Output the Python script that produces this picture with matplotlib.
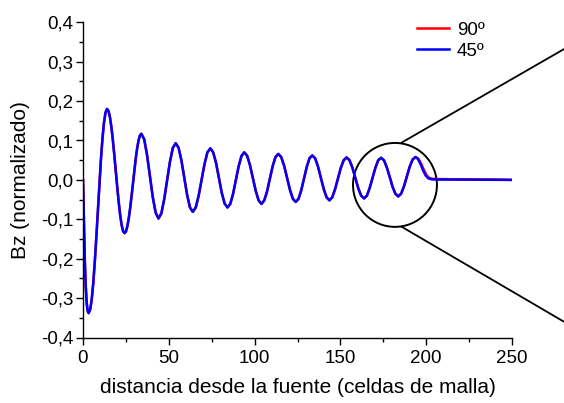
import matplotlib
matplotlib.use("Agg")
import matplotlib.pyplot as plt
from matplotlib.patches import Ellipse
from matplotlib.ticker import FuncFormatter, MultipleLocator

plt.rcParams['font.family'] = ['Liberation Sans', 'DejaVu Sans']

# distancia (celdas de malla) y Bz normalizado
dist_osc = [0.0, 0.3, 0.7, 1.1, 1.6, 2.2, 2.8,
            3.3, 4.19, 5.08, 5.98, 6.87, 7.76, 8.65, 9.54, 10.43, 11.33, 12.22, 13.11,
            14.0, 14.85, 15.7, 16.55, 17.4, 18.25, 19.1, 19.95, 20.8, 21.65, 22.5, 23.35,
            24.2, 25.02, 25.83, 26.65, 27.47, 28.28, 29.1, 29.92, 30.73, 31.55, 32.37, 33.18,
            34.0, 35.67, 37.33, 39.0, 40.67, 42.33,
            44.0, 45.67, 47.33, 49.0, 50.67, 52.33,
            54.0, 55.67, 57.33, 59.0, 60.67, 62.33,
            64.0, 65.7, 67.4, 69.1, 70.8, 72.5,
            74.2, 75.87, 77.53, 79.2, 80.87, 82.53,
            84.2, 85.83, 87.47, 89.1, 90.73, 92.37,
            94.0, 95.67, 97.33, 99.0, 100.67, 102.33,
            104.0, 105.63, 107.27, 108.9, 110.53, 112.17,
            113.8, 115.5, 117.2, 118.9, 120.6, 122.3,
            124.0, 125.6, 127.2, 128.8, 130.4, 132.0,
            133.6, 135.27, 136.93, 138.6, 140.27, 141.93,
            143.6, 145.27, 146.93, 148.6, 150.27, 151.93,
            153.6, 155.3, 157.0, 158.7, 160.4, 162.1,
            163.8, 165.45, 167.1, 168.75, 170.4, 172.05,
            173.7, 175.37, 177.03, 178.7, 180.37, 182.03,
            183.7, 185.38, 187.07, 188.75, 190.43, 192.12,
            193.8]
bz_osc = [0.0, -0.06, -0.14, -0.21, -0.27, -0.315, -0.334,
          -0.338, -0.329, -0.303, -0.262, -0.208, -0.146, -0.079, -0.012, 0.051, 0.104, 0.145, 0.171,
          0.180, 0.175, 0.159, 0.134, 0.101, 0.063, 0.022, -0.018, -0.056, -0.089, -0.114, -0.130,
          -0.135, -0.131, -0.118, -0.098, -0.072, -0.042, -0.009, 0.024, 0.054, 0.080, 0.100, 0.113,
          0.117, 0.103, 0.063, 0.010, -0.044, -0.083,
          -0.098, -0.085, -0.049, -0.002, 0.046, 0.081,
          0.093, 0.082, 0.050, 0.006, -0.038, -0.070,
          -0.081, -0.070, -0.040, 0.000, 0.040, 0.070,
          0.080, 0.070, 0.043, 0.005, -0.033, -0.060,
          -0.070, -0.061, -0.035, 0.000, 0.035, 0.061,
          0.070, 0.061, 0.037, 0.004, -0.028, -0.052,
          -0.061, -0.052, -0.029, 0.003, 0.035, 0.058,
          0.066, 0.058, 0.036, 0.005, -0.025, -0.048,
          -0.056, -0.048, -0.026, 0.004, 0.033, 0.055,
          0.062, 0.055, 0.034, 0.005, -0.023, -0.044,
          -0.052, -0.044, -0.023, 0.004, 0.031, 0.050,
          0.057, 0.050, 0.031, 0.005, -0.021, -0.040,
          -0.047, -0.040, -0.020, 0.006, 0.031, 0.050,
          0.056, 0.050, 0.032, 0.008, -0.017, -0.035,
          -0.042, -0.035, -0.016, 0.009, 0.034, 0.052,
          0.058]

# cola tras el ultimo pico
dist_cola_90 = [195.4, 197.0, 198.6, 200.2, 201.8, 203.5, 207.0, 240.0, 250.0]
bz_cola_90 = [0.054, 0.042, 0.026, 0.012, 0.005, 0.003, 0.002, 0.001, 0.0]
dist_cola_45 = [195.2, 196.7, 198.2, 199.7, 201.2, 203.0, 206.0, 250.0]
bz_cola_45 = [0.053, 0.040, 0.024, 0.011, 0.004, 0.0015, 0.001, 0.0]

x_ticks = [0, 50, 100, 150, 200, 250]
y_ticks = [-0.4, -0.3, -0.2, -0.1, 0.0, 0.1, 0.2, 0.3, 0.4]

fig = plt.figure(figsize=(5.64, 4.03), dpi=100)
ax = fig.add_axes([83 / 564, 1 - 337.5 / 403, (512 - 83) / 564, (337.5 - 22.3) / 403])

ax.plot(dist_osc + dist_cola_90, bz_osc + bz_cola_90, color='red', lw=1.8, label='90º')
ax.plot(dist_osc + dist_cola_45, bz_osc + bz_cola_45, color='blue', lw=1.8, label='45º')

ax.set_xlim(0, 250)
ax.set_ylim(-0.4, 0.4)
ax.set_xticks(x_ticks)
ax.set_yticks(y_ticks)
ax.xaxis.set_minor_locator(MultipleLocator(25))
ax.yaxis.set_minor_locator(MultipleLocator(0.05))
ax.yaxis.set_major_formatter(FuncFormatter(lambda v, p: f"{v:.1f}".replace('.', ',').replace('-0,0', '0,0')))
ax.tick_params(which='major', direction='out', length=5, width=1, labelsize=13.5, pad=2)
ax.tick_params(axis='x', which='major', pad=4)
ax.tick_params(which='minor', direction='out', length=3, width=1)
for s in ['top', 'right']:
    ax.spines[s].set_visible(False)
for s in ['left', 'bottom']:
    ax.spines[s].set_linewidth(1)

ax.set_xlabel('distancia desde la fuente (celdas de malla)', fontsize=15, labelpad=8)
ax.set_ylabel('Bz (normalizado)', fontsize=15, labelpad=8)

ax.legend(loc='upper left', bbox_to_anchor=(0.76, 1.025), frameon=False, fontsize=13.5,
          handlelength=1.75, handletextpad=0.4, labelspacing=0.2, borderaxespad=0)

# lupa sobre la zona final
ax.add_patch(Ellipse((181.8, -0.0127), 48.9, 0.213, fill=False, ec='black', lw=1.4, clip_on=False))
ax.plot([185.7, 280.3], [0.0947, 0.332], color='black', lw=1.3, clip_on=False)
ax.plot([185.7, 280.3], [-0.119, -0.360], color='black', lw=1.3, clip_on=False)

fig.savefig('out.png', dpi=100)
